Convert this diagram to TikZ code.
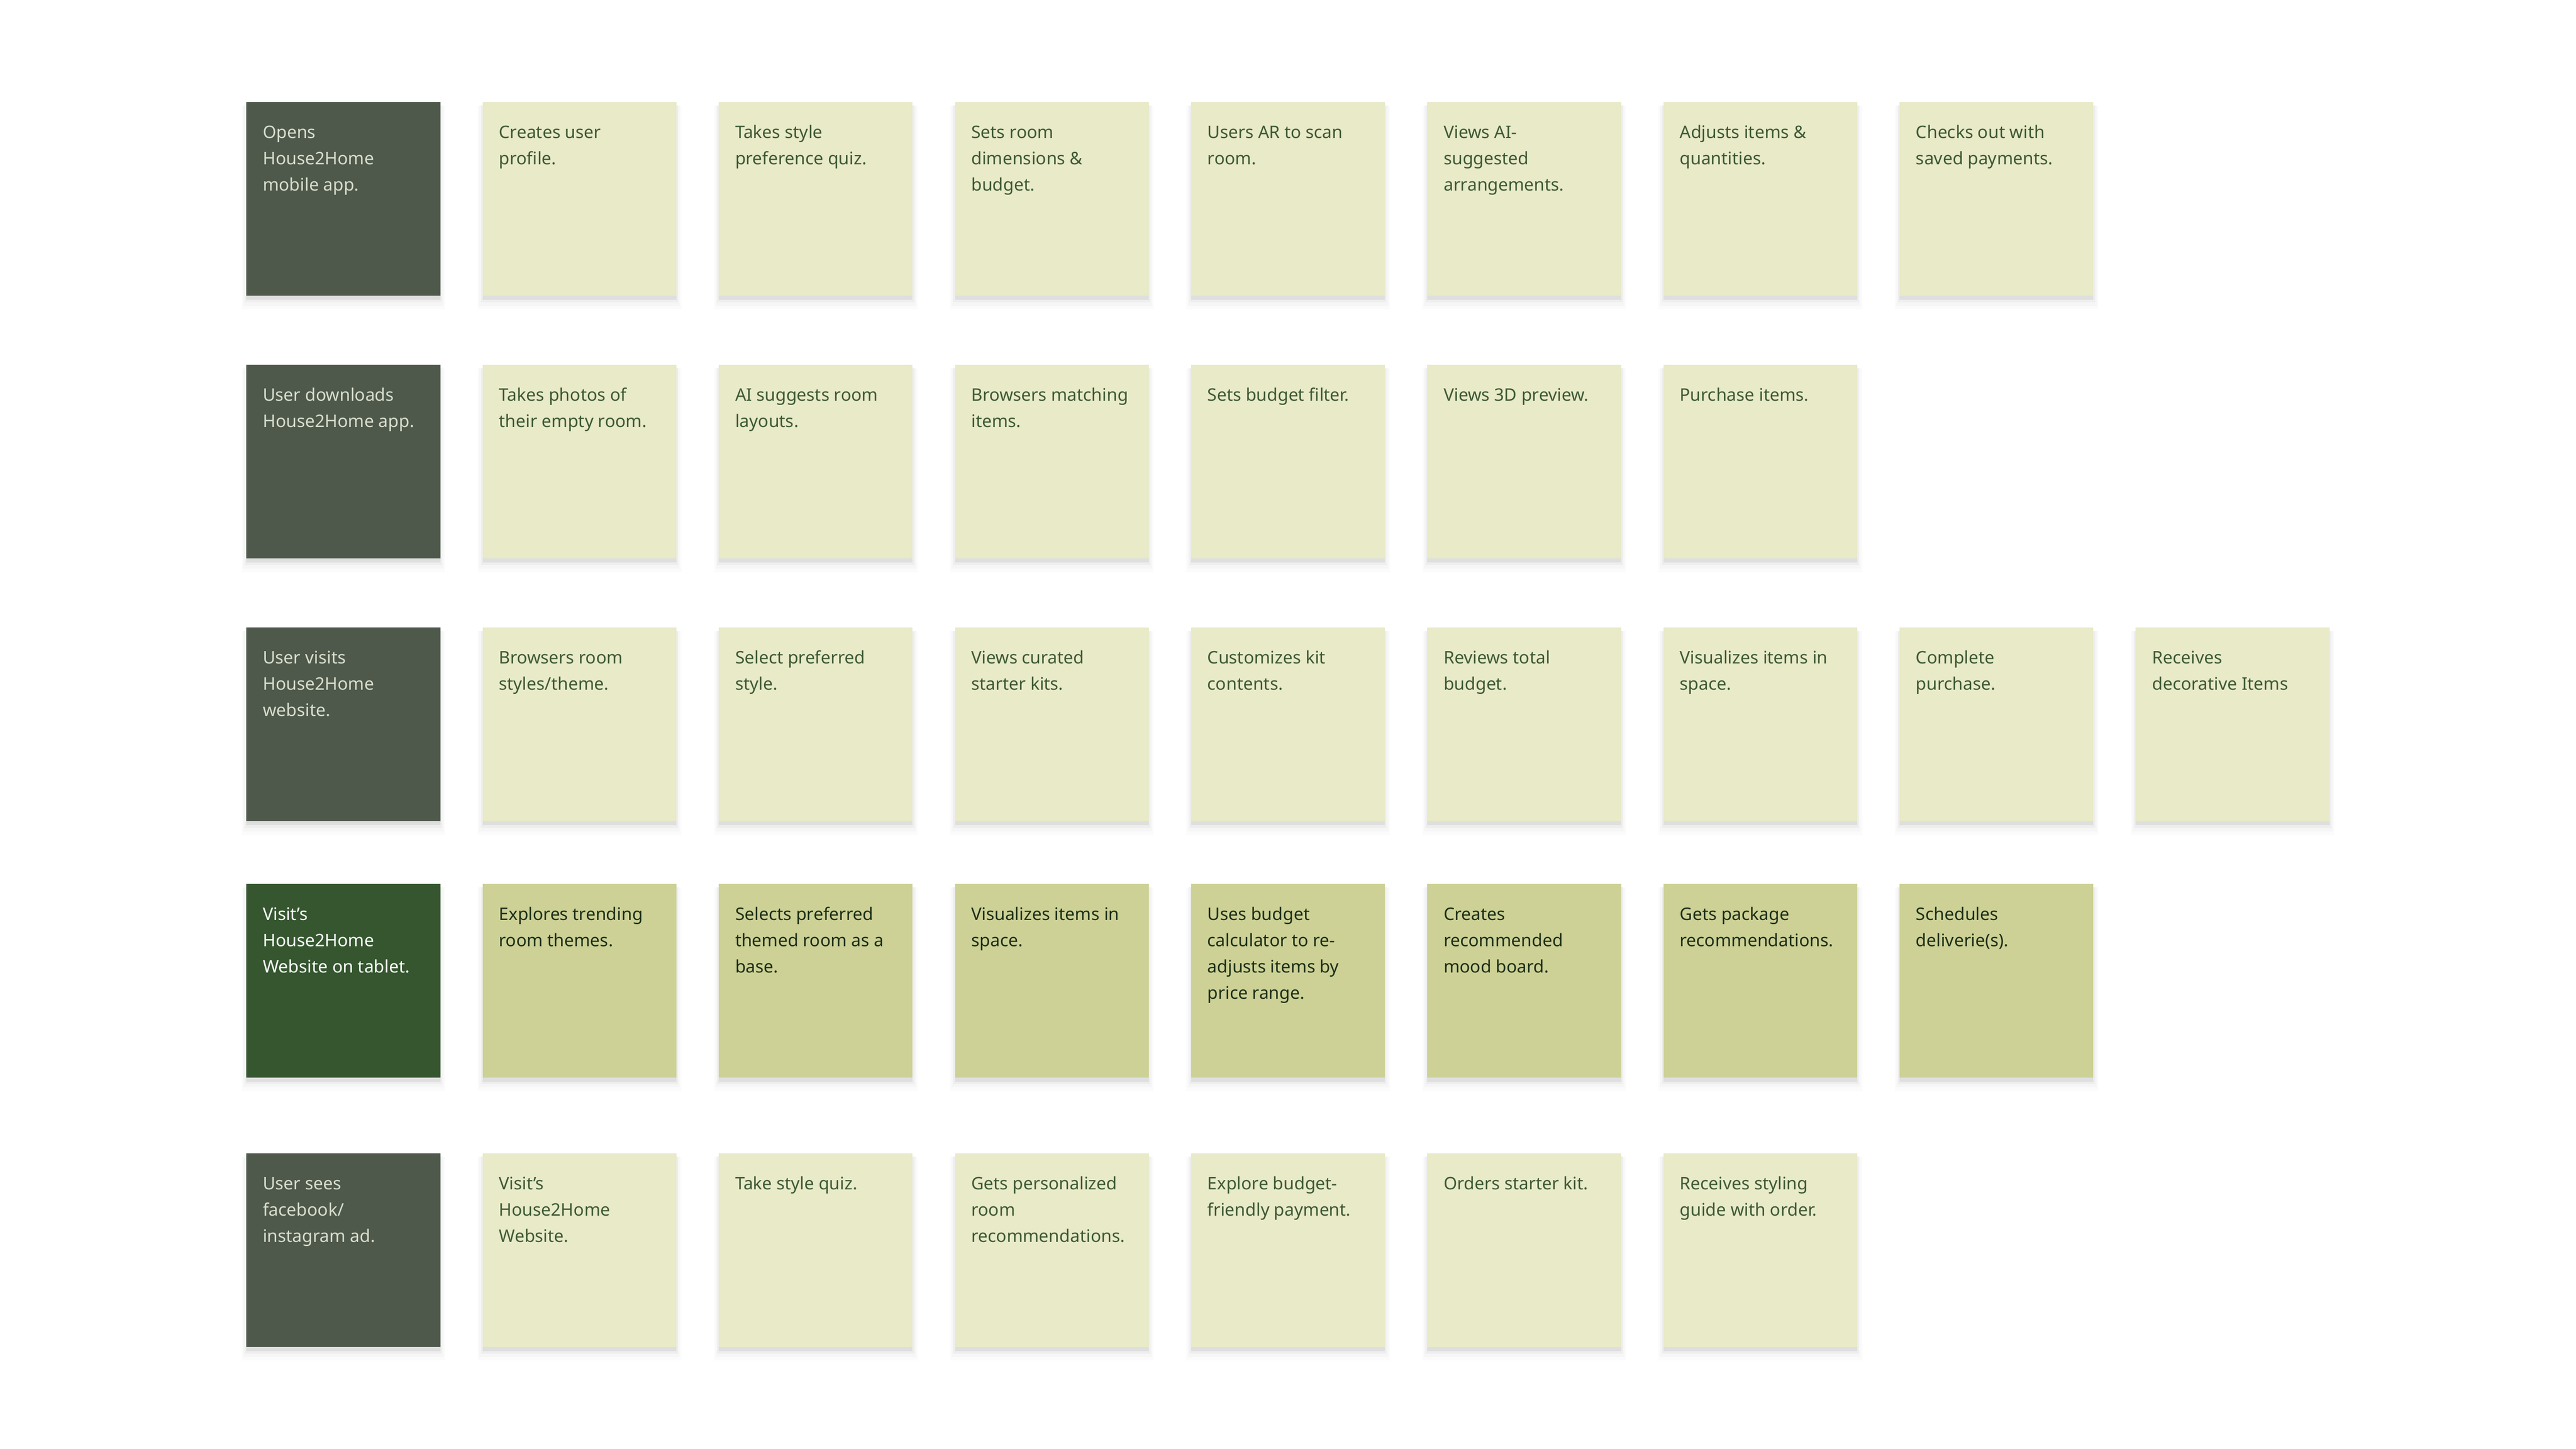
\documentclass[tikz,border=0pt]{standalone}
\usepackage{fontspec}
\setmainfont{Noto Sans}
\usetikzlibrary{positioning}
\usetikzlibrary{shadows}

\definecolor{slatecard}{HTML}{4E584B}
\definecolor{slatetext}{HTML}{D8DECD}
\definecolor{tabletcard}{HTML}{35562F}
\definecolor{palecard}{HTML}{E8EAC8}
\definecolor{paletext}{HTML}{3E5935}
\definecolor{olivecard}{HTML}{CDD196}
\definecolor{olivetext}{HTML}{1C2F17}

\tikzset{
    card/.style={rectangle, minimum width=59mm, minimum height=59mm, inner sep=0pt, outer sep=0pt,
        general shadow={fill=black, opacity=.06, shadow yshift=-1.25mm},
        general shadow={fill=black, opacity=.03, shadow yshift=-1.5mm, shadow scale=1.017},
        general shadow={fill=black, opacity=.02, shadow yshift=-2mm, shadow scale=1.034},
        general shadow={fill=black, opacity=.015, shadow yshift=-2.5mm, shadow scale=1.051}},
    slate/.style={card, fill=slatecard},
    tablet/.style={card, fill=tabletcard},
    pale/.style={card, fill=palecard},
    olive/.style={card, fill=olivecard},
    cardtext/.style={inner sep=0pt, outer sep=0pt, align=left, font=\fontsize{15pt}{22.8pt}\selectfont},
    slatetext/.style={cardtext, text=slatetext},
    tablettext/.style={cardtext, text=white},
    paletext/.style={cardtext, text=paletext},
    olivetext/.style={cardtext, text=olivetext},
    gap/.style={right=12.875mm of #1}
}

\begin{document}
\begin{tikzpicture}[x=0.5mm, y=-0.5mm]

    \fill[white] (0,0) rectangle (1568,882);
    \useasboundingbox (0,0) rectangle (1568,882);

    \coordinate (row1) at (150,62);
    \coordinate (row2) at (150,222);
    \coordinate (row3) at (150,382);
    \coordinate (row4) at (150,538);
    \coordinate (row5) at (150,702);

    % mobile app
    \node[slate, anchor=north west] (c10) at (row1) {};
    \node[pale, gap=c10] (c11) {};
    \node[pale, gap=c11] (c12) {};
    \node[pale, gap=c12] (c13) {};
    \node[pale, gap=c13] (c14) {};
    \node[pale, gap=c14] (c15) {};
    \node[pale, gap=c15] (c16) {};
    \node[pale, gap=c16] (c17) {};
    \node[slatetext, below right=5.45mm and 5mm of c10.north west] (t10) {\strut Opens\\House2Home\\mobile app.};
    \node[paletext, below right=5.45mm and 5mm of c11.north west] (t11) {\strut Creates user\\profile.};
    \node[paletext, below right=5.45mm and 5mm of c12.north west] (t12) {\strut Takes style\\preference quiz.};
    \node[paletext, below right=5.45mm and 5mm of c13.north west] (t13) {\strut Sets room\\dimensions \&\\budget.};
    \node[paletext, below right=5.45mm and 5mm of c14.north west] (t14) {\strut Users AR to scan\\room.};
    \node[paletext, below right=5.45mm and 5mm of c15.north west] (t15) {\strut Views AI-\\suggested\\arrangements.};
    \node[paletext, below right=5.45mm and 5mm of c16.north west] (t16) {\strut Adjusts items \&\\quantities.};
    \node[paletext, below right=5.45mm and 5mm of c17.north west] (t17) {\strut Checks out with\\saved payments.};

    % downloads app
    \node[slate, anchor=north west] (c20) at (row2) {};
    \node[pale, gap=c20] (c21) {};
    \node[pale, gap=c21] (c22) {};
    \node[pale, gap=c22] (c23) {};
    \node[pale, gap=c23] (c24) {};
    \node[pale, gap=c24] (c25) {};
    \node[pale, gap=c25] (c26) {};
    \node[slatetext, below right=5.45mm and 5mm of c20.north west] (t20) {\strut User downloads\\House2Home app.};
    \node[paletext, below right=5.45mm and 5mm of c21.north west] (t21) {\strut Takes photos of\\their empty room.};
    \node[paletext, below right=5.45mm and 5mm of c22.north west] (t22) {\strut AI suggests room\\layouts.};
    \node[paletext, below right=5.45mm and 5mm of c23.north west] (t23) {\strut Browsers matching\\items.};
    \node[paletext, below right=5.45mm and 5mm of c24.north west] (t24) {\strut Sets budget filter.};
    \node[paletext, below right=5.45mm and 5mm of c25.north west] (t25) {\strut Views 3D preview.};
    \node[paletext, below right=5.45mm and 5mm of c26.north west] (t26) {\strut Purchase items.};

    % website
    \node[slate, anchor=north west] (c30) at (row3) {};
    \node[pale, gap=c30] (c31) {};
    \node[pale, gap=c31] (c32) {};
    \node[pale, gap=c32] (c33) {};
    \node[pale, gap=c33] (c34) {};
    \node[pale, gap=c34] (c35) {};
    \node[pale, gap=c35] (c36) {};
    \node[pale, gap=c36] (c37) {};
    \node[pale, gap=c37] (c38) {};
    \node[slatetext, below right=5.45mm and 5mm of c30.north west] (t30) {\strut User visits\\House2Home\\website.};
    \node[paletext, below right=5.45mm and 5mm of c31.north west] (t31) {\strut Browsers room\\styles/theme.};
    \node[paletext, below right=5.45mm and 5mm of c32.north west] (t32) {\strut Select preferred\\style.};
    \node[paletext, below right=5.45mm and 5mm of c33.north west] (t33) {\strut Views curated\\starter kits.};
    \node[paletext, below right=5.45mm and 5mm of c34.north west] (t34) {\strut Customizes kit\\contents.};
    \node[paletext, below right=5.45mm and 5mm of c35.north west] (t35) {\strut Reviews total\\budget.};
    \node[paletext, below right=5.45mm and 5mm of c36.north west] (t36) {\strut Visualizes items in\\space.};
    \node[paletext, below right=5.45mm and 5mm of c37.north west] (t37) {\strut Complete\\purchase.};
    \node[paletext, below right=5.45mm and 5mm of c38.north west] (t38) {\strut Receives\\decorative Items};

    % tablet
    \node[tablet, anchor=north west] (c40) at (row4) {};
    \node[olive, gap=c40] (c41) {};
    \node[olive, gap=c41] (c42) {};
    \node[olive, gap=c42] (c43) {};
    \node[olive, gap=c43] (c44) {};
    \node[olive, gap=c44] (c45) {};
    \node[olive, gap=c45] (c46) {};
    \node[olive, gap=c46] (c47) {};
    \node[tablettext, below right=5.45mm and 5mm of c40.north west] (t40) {\strut Visit’s\\House2Home\\Website on tablet.};
    \node[olivetext, below right=5.45mm and 5mm of c41.north west] (t41) {\strut Explores trending\\room themes.};
    \node[olivetext, below right=5.45mm and 5mm of c42.north west] (t42) {\strut Selects preferred\\themed room as a\\base.};
    \node[olivetext, below right=5.45mm and 5mm of c43.north west] (t43) {\strut Visualizes items in\\space.};
    \node[olivetext, below right=5.45mm and 5mm of c44.north west] (t44) {\strut Uses budget\\calculator to re-\\adjusts items by\\price range.};
    \node[olivetext, below right=5.45mm and 5mm of c45.north west] (t45) {\strut Creates\\recommended\\mood board.};
    \node[olivetext, below right=5.45mm and 5mm of c46.north west] (t46) {\strut Gets package\\recommendations.};
    \node[olivetext, below right=5.45mm and 5mm of c47.north west] (t47) {\strut Schedules\\deliverie(s).};

    % social ad
    \node[slate, anchor=north west] (c50) at (row5) {};
    \node[pale, gap=c50] (c51) {};
    \node[pale, gap=c51] (c52) {};
    \node[pale, gap=c52] (c53) {};
    \node[pale, gap=c53] (c54) {};
    \node[pale, gap=c54] (c55) {};
    \node[pale, gap=c55] (c56) {};
    \node[slatetext, below right=5.45mm and 5mm of c50.north west] (t50) {\strut User sees\\facebook/\\instagram ad.};
    \node[paletext, below right=5.45mm and 5mm of c51.north west] (t51) {\strut Visit’s\\House2Home\\Website.};
    \node[paletext, below right=5.45mm and 5mm of c52.north west] (t52) {\strut Take style quiz.};
    \node[paletext, below right=5.45mm and 5mm of c53.north west] (t53) {\strut Gets personalized\\room\\recommendations.};
    \node[paletext, below right=5.45mm and 5mm of c54.north west] (t54) {\strut Explore budget-\\friendly payment.};
    \node[paletext, below right=5.45mm and 5mm of c55.north west] (t55) {\strut Orders starter kit.};
    \node[paletext, below right=5.45mm and 5mm of c56.north west] (t56) {\strut Receives styling\\guide with order.};

\end{tikzpicture}
\end{document}
